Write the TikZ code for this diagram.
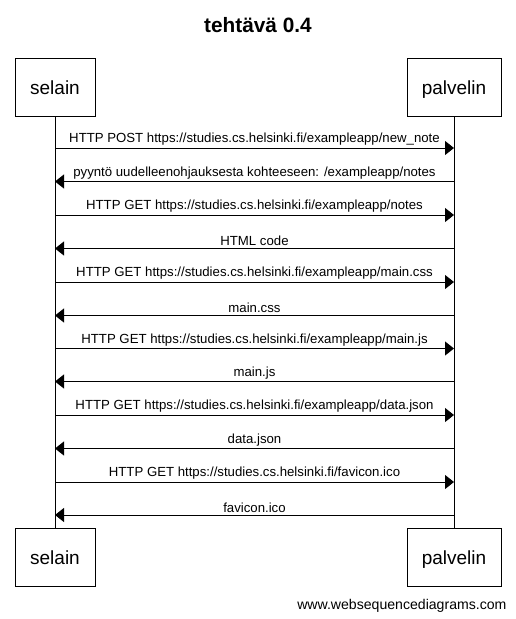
\documentclass[tikz,border=0pt]{standalone}
\usepackage{fontspec}
\setmainfont{Liberation Sans}
\usetikzlibrary{arrows.meta}
\begin{document}
\begin{tikzpicture}[x=1pt,y=-1pt,line width=1pt,
  actor/.style={draw,line width=1pt,minimum height=58pt,inner sep=0pt,text height=18pt,text depth=4pt,font=\fontsize{19}{22}\selectfont},
  msg/.style={-{Triangle[length=9pt,width=14pt]}},
  lbl/.style={above,inner sep=0pt,yshift=2pt,font=\fontsize{13.2}{15}\selectfont},
  life/.style={line width=1pt}]
\useasboundingbox (0,0) rectangle (516,619);
\node[font=\bfseries\fontsize{20.8}{24}\selectfont] (title) at (258,25) {tehtävä 0.4};
\node[actor,minimum width=80pt] (st) at (55,87) {selain};
\node[actor,minimum width=94pt] (pt) at (454,87) {palvelin};
\node[actor,minimum width=80pt] (sb) at (55,557) {selain};
\node[actor,minimum width=94pt] (pb) at (454,557) {palvelin};
\draw[life] (st.south) -- (sb.north);
\draw[life] (pt.south) -- (pb.north);
\foreach \i/\y in {1/148,2/181.5,3/215,4/248.5,5/282,6/315.5,7/348.5,8/381.5,9/415,10/448.5,11/482,12/515}{
  \coordinate (s\i) at (55,\y);
  \coordinate (p\i) at (454,\y);
}
\draw[msg] (s1) -- node[lbl] (m1) {HTTP POST https://studies.cs.helsinki.fi/exampleapp/new\_note} (p1);
\draw[msg] (p2) -- node[lbl] (m2) {pyyntö uudelleenohjauksesta kohteeseen: /exampleapp/notes} (s2);
\draw[msg] (s3) -- node[lbl] (m3) {HTTP GET https://studies.cs.helsinki.fi/exampleapp/notes} (p3);
\draw[msg] (p4) -- node[lbl] (m4) {HTML code} (s4);
\draw[msg] (s5) -- node[lbl] (m5) {HTTP GET https://studies.cs.helsinki.fi/exampleapp/main.css} (p5);
\draw[msg] (p6) -- node[lbl] (m6) {main.css} (s6);
\draw[msg] (s7) -- node[lbl] (m7) {HTTP GET https://studies.cs.helsinki.fi/exampleapp/main.js} (p7);
\draw[msg] (p8) -- node[lbl] (m8) {main.js} (s8);
\draw[msg] (s9) -- node[lbl] (m9) {HTTP GET https://studies.cs.helsinki.fi/exampleapp/data.json} (p9);
\draw[msg] (p10) -- node[lbl] (m10) {data.json} (s10);
\draw[msg] (s11) -- node[lbl] (m11) {HTTP GET https://studies.cs.helsinki.fi/favicon.ico} (p11);
\draw[msg] (p12) -- node[lbl] (m12) {favicon.ico} (s12);
\node[anchor=base east,inner sep=0pt,font=\fontsize{14.1}{16}\selectfont] (foot) at (507,609) {www.websequencediagrams.com};
\end{tikzpicture}
\end{document}
